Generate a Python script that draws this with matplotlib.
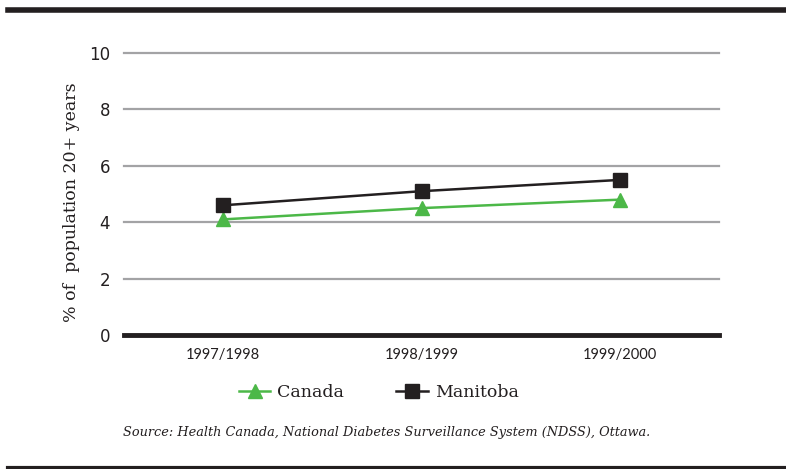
import matplotlib
matplotlib.use("Agg")
import matplotlib.pyplot as plt
from matplotlib.lines import Line2D

# Diabetes prevalence, adults 20+
periods = ["1997/1998", "1998/1999", "1999/2000"]
canada = [4.1, 4.5, 4.8]
manitoba = [4.6, 5.1, 5.5]
y_ticks = [0, 2, 4, 6, 8, 10]

GREEN = "#4cb848"
BLACK = "#231f20"
GRID = "#a3a3a5"

fig = plt.figure(figsize=(7.86, 4.69), dpi=100)
ax = fig.add_axes([0.1578, 0.2857, 0.757, 0.6013])

x = list(range(len(periods)))
ax.plot(x, canada, color=GREEN, lw=1.8, marker="^", ms=10, mec=GREEN, mfc=GREEN, zorder=3)
ax.plot(x, manitoba, color=BLACK, lw=1.8, marker="s", ms=10, mec=BLACK, mfc=BLACK, zorder=4)

ax.set_xlim(-0.5, 2.5)
ax.set_ylim(0, 10)
ax.set_yticks(y_ticks)
ax.set_xticks(x)
ax.set_xticklabels(periods, family="Lato", fontsize=10.5, color=BLACK)
ax.set_yticklabels([str(t) for t in y_ticks], family="DejaVu Sans", fontsize=12, color=BLACK)
ax.tick_params(length=0, axis="y", pad=10)
ax.tick_params(length=0, axis="x", pad=9)

for t in y_ticks[1:]:
    ax.axhline(t, color=GRID, lw=1.6, zorder=1, clip_on=False)
ax.axhline(0, color=BLACK, lw=3.5, zorder=5, clip_on=False)

for s in ax.spines.values():
    s.set_visible(False)

ax.set_ylabel("% of  population 20+ years", family="DejaVu Serif", fontsize=12.5, color=BLACK)
ax.yaxis.set_label_coords(-0.074, 0.472)

handles = [
    Line2D([], [], color=GREEN, lw=1.8, marker="^", ms=10, mec=GREEN, mfc=GREEN),
    Line2D([], [], color=BLACK, lw=1.8, marker="s", ms=10, mec=BLACK, mfc=BLACK),
]
fig.legend(handles, ["Canada", "Manitoba"], loc="center", bbox_to_anchor=(0.482, 0.164),
           ncol=2, frameon=False, handlelength=1.8, handletextpad=0.4, columnspacing=3.0,
           prop={"family": "DejaVu Serif", "size": 12.5}, labelcolor=BLACK)

fig.text(0.492, 0.077, "Source: Health Canada, National Diabetes Surveillance System (NDSS), Ottawa.",
         ha="center", va="center", family="DejaVu Serif", style="italic", fontsize=9.3, color=BLACK)

# Rules framing the figure
fig.add_artist(Line2D([8 / 786, 1], [1 - 10.5 / 469] * 2, color=BLACK, lw=4, transform=fig.transFigure))
fig.add_artist(Line2D([8 / 786, 1], [1.5 / 469] * 2, color=BLACK, lw=3, transform=fig.transFigure))

fig.savefig("out.png", dpi=100)
